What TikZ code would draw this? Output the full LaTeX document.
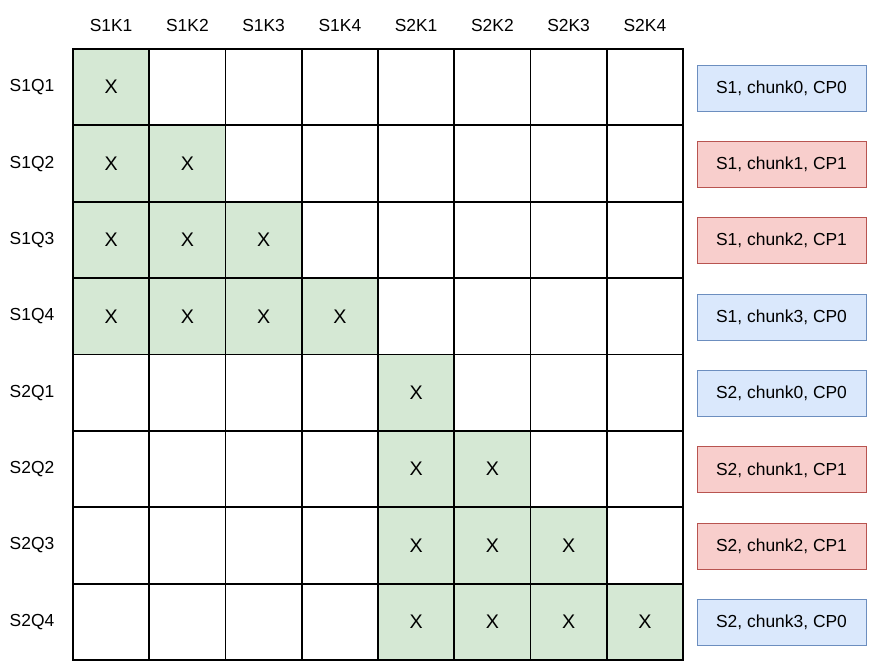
\documentclass[tikz,border=0pt]{standalone}
\usepackage{fontspec}
\setmainfont{Liberation Sans}
\usepackage{tikz}

\definecolor{maskgreen}{HTML}{D5E8D4}
\definecolor{cpblue}{HTML}{DAE8FC}
\definecolor{cpblueline}{HTML}{6C8EBF}
\definecolor{cpred}{HTML}{F8CECC}
\definecolor{cpredline}{HTML}{B85450}

\tikzset{
    cell/.style = {rectangle, inner sep=0pt,
        minimum width=76.25*0.025cm, minimum height=76.375*0.025cm},
    hit/.style = {cell, fill=maskgreen, font=\fontsize{14}{16}\selectfont},
    gridline/.style = {line width=1.3pt, line cap=rect},
    cp0/.style = {draw=cpblueline, fill=cpblue, rectangle, line width=0.7pt,
        minimum width=169*0.025cm, minimum height=46*0.025cm},
    cp1/.style = {cp0, draw=cpredline, fill=cpred}
}

\begin{document}
\begin{tikzpicture}[
            x = 0.025cm, % one unit = one pixel
            y = -0.025cm,
            font = \fontsize{12.4}{14}\selectfont
            ]
            \useasboundingbox (0,0) rectangle (872,664);

            % mask cells, row r = query, column c = key
            \foreach \r in {1,...,8} {
                \foreach \c in {1,...,8} {
                    \pgfmathtruncatemacro{\sr}{(\r-1)/4}
                    \pgfmathtruncatemacro{\sc}{(\c-1)/4}
                    \ifnum\sr=\sc
                        \ifnum\c>\r
                            \node[cell] (c\r\c) at ({73+76.25*(\c-0.5)}, {49+76.375*(\r-0.5)}) {};
                        \else
                            \node[hit] (c\r\c) at ({73+76.25*(\c-0.5)}, {49+76.375*(\r-0.5)}) {X};
                        \fi
                    \else
                        \node[cell] (c\r\c) at ({73+76.25*(\c-0.5)}, {49+76.375*(\r-0.5)}) {};
                    \fi
                }
            }

            % grid lines on top of the fills
            \foreach \i in {0,...,8} {
                \draw[gridline] ({73+76.25*\i}, 49) -- ({73+76.25*\i}, 660);
                \draw[gridline] (73, {49+76.375*\i}) -- (683, {49+76.375*\i});
            }

            % key labels
            \node (k1) at (111.1, 25) {S1K1};
            \node (k2) at (187.4, 25) {S1K2};
            \node (k3) at (263.6, 25) {S1K3};
            \node (k4) at (339.9, 25) {S1K4};
            \node (k5) at (416.1, 25) {S2K1};
            \node (k6) at (492.4, 25) {S2K2};
            \node (k7) at (568.6, 25) {S2K3};
            \node (k8) at (644.9, 25) {S2K4};

            % query labels
            \node (q1) at (32, 87.2) {S1Q1};
            \node (q2) at (32, 163.6) {S1Q2};
            \node (q3) at (32, 239.9) {S1Q3};
            \node (q4) at (32, 316.3) {S1Q4};
            \node (q5) at (32, 392.7) {S2Q1};
            \node (q6) at (32, 469.1) {S2Q2};
            \node (q7) at (32, 545.4) {S2Q3};
            \node (q8) at (32, 621.8) {S2Q4};

            % chunk owners
            \node[cp0] (p1) at (781.5, 88) {S1, chunk0, CP0};
            \node[cp1] (p2) at (781.5, 164.4) {S1, chunk1, CP1};
            \node[cp1] (p3) at (781.5, 240.7) {S1, chunk2, CP1};
            \node[cp0] (p4) at (781.5, 317.1) {S1, chunk3, CP0};
            \node[cp0] (p5) at (781.5, 393.5) {S2, chunk0, CP0};
            \node[cp1] (p6) at (781.5, 469.9) {S2, chunk1, CP1};
            \node[cp1] (p7) at (781.5, 546.2) {S2, chunk2, CP1};
            \node[cp0] (p8) at (781.5, 622.6) {S2, chunk3, CP0};
        \end{tikzpicture}
\end{document}
